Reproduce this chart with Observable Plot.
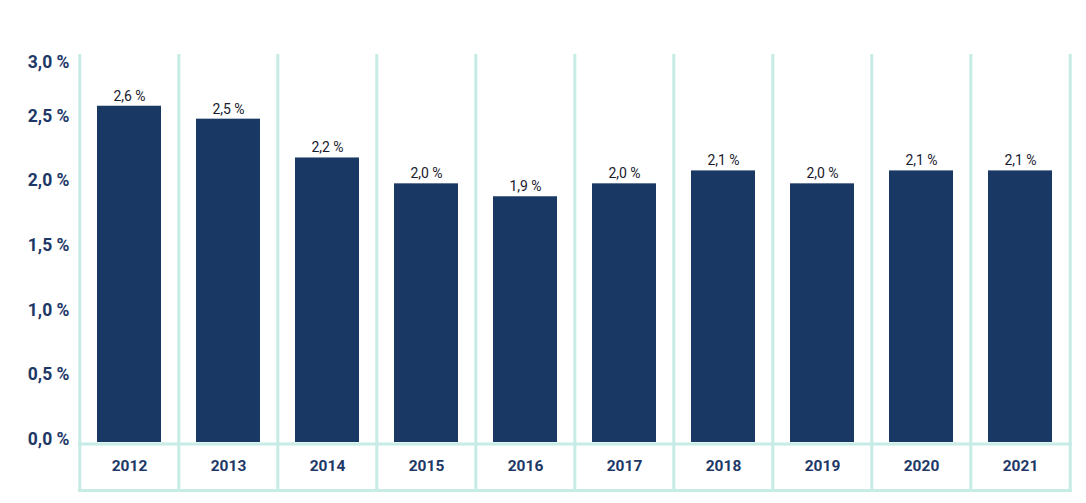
<!DOCTYPE html>
<html>
<head>
<meta charset="utf-8">
<script src="https://cdn.jsdelivr.net/npm/d3@7"></script>
<script src="https://cdn.jsdelivr.net/npm/@observablehq/plot@0.6"></script>
<style>
  html, body { margin: 0; padding: 0; background: #fff; }
  #chart svg { display: block; }
</style>
</head>
<body>
<div id="chart"></div>
<script>
const years = ["2012", "2013", "2014", "2015", "2016", "2017", "2018", "2019", "2020", "2021"];
const values = [2.6, 2.5, 2.2, 2.0, 1.9, 2.0, 2.1, 2.0, 2.1, 2.1];
const yTicks = [0, 0.5, 1.0, 1.5, 2.0, 2.5];
const yTopTick = [3.0];

const data = years.map((y, i) => ({year: y, value: values[i]}));
const fmt = v => v.toFixed(1).replace(".", ",") + " %";

const navy = "#1a3864";
const textNavy = "#1d3866";
const mint = "#c6ece5";
const font = "Roboto, 'Open Sans', sans-serif";

const W = 1086, H = 503;
const mL = 78, mR = 14, mT = 54, mB = 61;
const step = (W - mL - mR) / years.length;

const chart = Plot.plot({
  width: W,
  height: H,
  marginTop: mT,
  marginBottom: mB,
  marginLeft: mL,
  marginRight: mR,
  style: {fontFamily: font, background: "#fff"},
  x: {domain: years, paddingInner: 0.35, paddingOuter: 0.175, axis: null},
  y: {domain: [0, 3], axis: null},
  marks: [
    Plot.ruleX(years, {x: d => d, dx: -step / 2, stroke: mint, strokeWidth: 3, insetBottom: -50}),
    Plot.ruleX([years[years.length - 1]], {x: d => d, dx: step / 2, stroke: mint, strokeWidth: 3, insetBottom: -50}),
    Plot.ruleY([0], {stroke: mint, strokeWidth: 3, dy: 1.5}),
    Plot.ruleY([0], {stroke: mint, strokeWidth: 3, dy: 48}),
    Plot.barY(data, {x: "year", y: "value", fill: navy}),
    Plot.text(data, {x: "year", y: "value", text: d => fmt(d.value), dy: -10, fill: "#1a1a2e", fontSize: 14, fontFamily: font}),
    Plot.text(yTicks, {y: d => d, text: d => fmt(d), frameAnchor: "left", textAnchor: "end", dx: -9, dy: -3, fill: textNavy, fontSize: 17.5, fontWeight: 700, fontFamily: font}),
    Plot.text(yTopTick, {y: d => d, text: d => fmt(d), frameAnchor: "left", textAnchor: "end", dx: -9, dy: 8, fill: textNavy, fontSize: 17.5, fontWeight: 700, fontFamily: font}),
    Plot.text(years, {x: d => d, text: d => d, frameAnchor: "bottom", dy: 24, lineAnchor: "middle", fill: textNavy, fontSize: 15.5, fontWeight: 700, fontFamily: font})
  ]
});
document.getElementById("chart").appendChild(chart);
</script>
</body>
</html>
